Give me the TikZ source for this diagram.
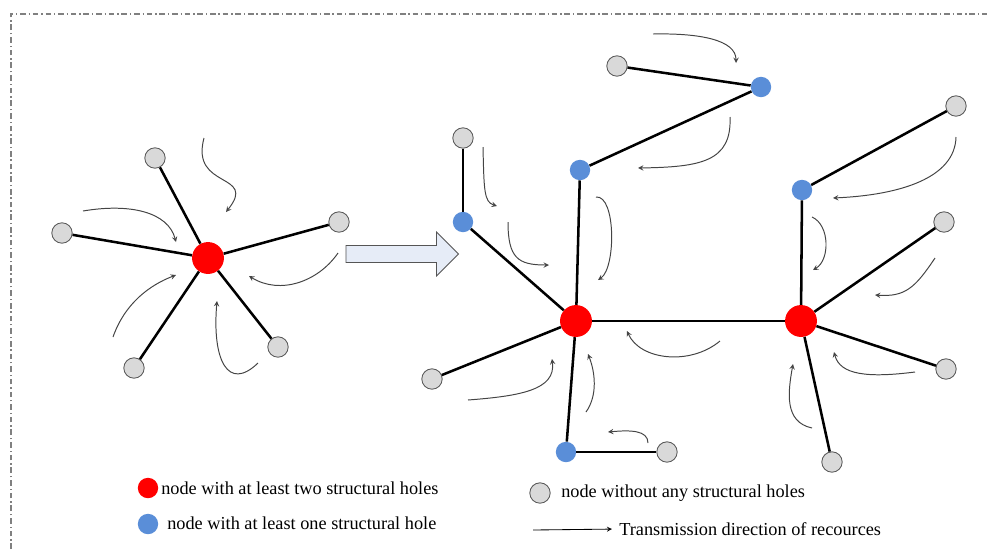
\documentclass[tikz,border=0pt]{standalone}
\usepackage{fontspec}
\setmainfont{Liberation Serif}
\usetikzlibrary{shapes.arrows, arrows}
\definecolor{holered}{HTML}{FF0000}
\definecolor{holeblue}{HTML}{5A8ED8}
\definecolor{nogray}{HTML}{D9D9D9}
\definecolor{rimgray}{HTML}{555555}
\definecolor{flowgray}{HTML}{444444}
\definecolor{shiftblue}{HTML}{E6ECF7}
\tikzstyle{twohole} = [circle, fill=holered, minimum size=22.7pt, inner sep=0pt]
\tikzstyle{onehole} = [circle, fill=holeblue, minimum size=14.5pt, inner sep=0pt]
\tikzstyle{nohole} = [circle, fill=nogray, draw=rimgray, line width=0.6pt, minimum size=14.5pt, inner sep=0pt]
\tikzstyle{link} = [line width=1.8pt]
\tikzstyle{flow} = [->, >=stealth, draw=flowgray, line width=0.7pt]
\tikzstyle{legend} = [anchor=west, inner sep=0pt, font=\fontsize{13}{15}\selectfont]
\tikzstyle{frame} = [draw=gray, line width=0.8pt, dash pattern=on 4pt off 2pt on 1pt off 2pt]

\begin{document}
\begin{tikzpicture}[x=0.025cm, y=-0.025cm]
        \useasboundingbox (0,0) rectangle (987,549);
        \draw [frame] (11,549) -- (11,14) -- (987,14);

        \node (hub) [twohole] at (208,258) {};
        \node (l1) [nohole] at (155,158) {};
        \node (l2) [nohole] at (62,233) {};
        \node (l3) [nohole] at (339,222) {};
        \node (l4) [nohole] at (134,368) {};
        \node (l5) [nohole] at (278,347) {};
        \draw [link] (hub) -- (l1);
        \draw [link] (hub) -- (l2);
        \draw [link] (hub) -- (l3);
        \draw [link] (hub) -- (l4);
        \draw [link] (hub) -- (l5);

        \draw [flow] (204,138) .. controls (190,190) and (258,172) .. (226,212);
        \draw [flow] (83,211) .. controls (130,203) and (168,212) .. (176,242);
        \draw [flow] (113,337) .. controls (125,303) and (150,285) .. (176,275);
        \draw [flow] (258,363) .. controls (228,392) and (212,360) .. (217,301);
        \draw [flow] (338,253) .. controls (318,282) and (280,295) .. (249,276);

        \node (shift) [single arrow, draw=rimgray, fill=shiftblue, line width=0.6pt,
                text height=0pt, text depth=0pt, inner xsep=0pt, inner ysep=5.7pt,
                single arrow head extend=9.6pt, minimum height=80pt] at (398,254) {};

        \node (r1) [twohole] at (576,321) {};
        \node (r2) [twohole] at (801,321) {};
        \node (b1) [onehole] at (463,222) {};
        \node (b2) [onehole] at (580,170) {};
        \node (b3) [onehole] at (761,87) {};
        \node (b4) [onehole] at (802,190) {};
        \node (b5) [onehole] at (566,452) {};
        \node (g1) [nohole] at (463,138) {};
        \node (g2) [nohole] at (617,66) {};
        \node (g3) [nohole] at (956,106) {};
        \node (g4) [nohole] at (944,222) {};
        \node (g5) [nohole] at (946,369) {};
        \node (g6) [nohole] at (832,462) {};
        \node (g7) [nohole] at (667,452) {};
        \node (g8) [nohole] at (432,379) {};
        \draw [link] (g1) -- (b1);
        \draw [link] (b1) -- (r1);
        \draw [link] (b2) -- (r1);
        \draw [link] (b2) -- (b3);
        \draw [link] (g2) -- (b3);
        \draw [link] (r1) -- (r2);
        \draw [link] (b4) -- (r2);
        \draw [link] (g3) -- (b4);
        \draw [link] (g4) -- (r2);
        \draw [link] (g5) -- (r2);
        \draw [link] (g6) -- (r2);
        \draw [link] (r1) -- (b5);
        \draw [link] (b5) -- (g7);
        \draw [link] (g8) -- (r1);

        \draw [flow] (653,34) .. controls (700,33) and (736,40) .. (736,63);
        \draw [flow] (730,117) .. controls (732,162) and (700,167) .. (638,168);
        \draw [flow] (483,147) .. controls (484,190) and (484,202) .. (497,206);
        \draw [flow] (508,222) .. controls (508,258) and (518,265) .. (549,265);
        \draw [flow] (596,197) .. controls (616,195) and (616,268) .. (598,280);
        \draw [flow] (956,137) .. controls (955,178) and (900,195) .. (833,198);
        \draw [flow] (812,217) .. controls (830,225) and (830,260) .. (813,270);
        \draw [flow] (935,258) .. controls (915,288) and (905,297) .. (875,295);
        \draw [flow] (915,372) .. controls (868,378) and (840,375) .. (834,352);
        \draw [flow] (720,341) .. controls (690,366) and (640,360) .. (627,331);
        \draw [flow] (812,428) .. controls (784,422) and (788,392) .. (793,364);
        \draw [flow] (586,412) .. controls (598,395) and (595,372) .. (588,354);
        \draw [flow] (648,443) .. controls (648,430) and (630,430) .. (608,432);
        \draw [flow] (468,400) .. controls (520,396) and (556,390) .. (552,359);

        \node (keytwo) [twohole, minimum size=14.5pt] at (148,488) {};
        \node (keytwotext) [legend] at (161,488) {node with at least two structural holes};
        \node (keyone) [onehole] at (148,524) {};
        \node (keyonetext) [legend] at (167,523) {node with at least one structural hole};
        \node (keyno) [nohole] at (540,493) {};
        \node (keynotext) [legend] at (561,493) {node without any structural holes};
        \coordinate (keyflow) at (533,530);
        \node (keyflowtext) [legend] at (619,529) {Transmission direction of recources};
        \draw [->, >=stealth, line width=0.6pt, shorten >=5pt] (keyflow) -- (keyflowtext.west);
\end{tikzpicture}
\end{document}
